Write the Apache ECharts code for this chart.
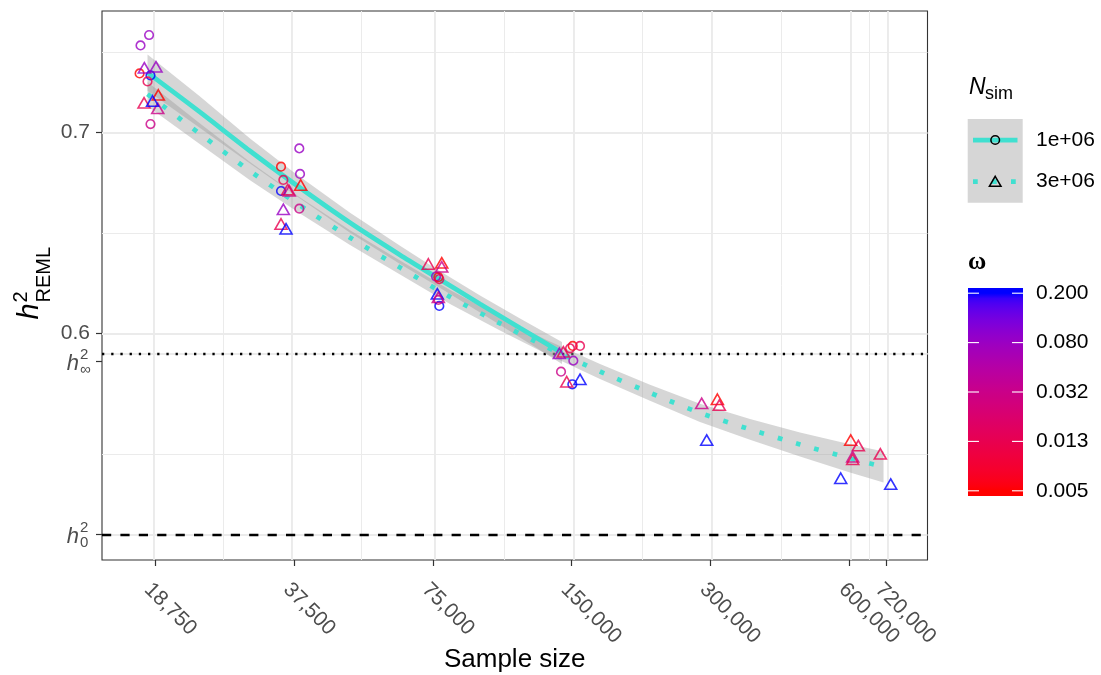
<!DOCTYPE html>
<html>
<head>
<meta charset="utf-8">
<script src="https://cdn.jsdelivr.net/npm/echarts@6/dist/echarts.min.js"></script>
<style>
  html, body { margin: 0; padding: 0; background: #ffffff; }
  #chart { width: 1101px; height: 675px; }
</style>
</head>
<body>
<div id="chart"></div>
<script>
// ---- axis breaks and limits ----
const sampleSizeTicks = [18750, 37500, 75000, 150000, 300000, 600000, 720000];
const sampleSizeRange = [14390, 885500];
const h2Range = [0.48721, 0.76035];
const h2Zero = 0.5;      // h^2_0
const h2Inf = 0.586;     // h^2_infinity
const h2Ticks = [0.6, 0.7];
const omegaBreaks = [0.2, 0.08, 0.032, 0.0128, 0.00512];
const nsimLabels = ['1e+06', '3e+06'];

// ---- N_sim = 1e+06 replicates (circles) ----
const circleN = [18200, 17440, 17360, 18330, 18060, 18330,
  38520, 35160, 38660, 35570, 35160, 38520,
  76200, 77090, 77470, 77090, 77470,
  150750, 156340, 148750, 151200, 142200, 150450];
const circleH2 = [0.7484, 0.7432, 0.7293, 0.7283, 0.7253, 0.7041,
  0.6920, 0.6829, 0.6793, 0.6763, 0.6708, 0.6620,
  0.6282, 0.6279, 0.6270, 0.6166, 0.6136,
  0.5937, 0.5937, 0.5925, 0.5864, 0.5809, 0.5746];
const circleOmega = [0.08, 0.08, 0.00512, 0.2, 0.0128, 0.032,
  0.08, 0.00512, 0.08, 0.0128, 0.2, 0.032,
  0.08, 0.00512, 0.0128, 0.032, 0.2,
  0.00512, 0.0128, 0.0128, 0.08, 0.032, 0.2];

// ---- N_sim = 3e+06 replicates (triangles) ----
const triangleN = [17775, 18840, 17750, 19060, 19005, 18520,
  36650, 36360, 38790, 35570, 35160, 36050,
  73340, 78410, 78410, 76700, 77090,
  143850, 141000, 146310, 156340,
  286900, 310300, 313300, 294200,
  603600, 627000, 609600, 609600, 699700, 574300, 737000];
const triangleH2 = [0.7321, 0.7326, 0.7147, 0.7186, 0.7119, 0.7156,
  0.6709, 0.6715, 0.6738, 0.6617, 0.6544, 0.6520,
  0.6345, 0.6351, 0.6331, 0.6196, 0.6179,
  0.5908, 0.5900, 0.5759, 0.5771,
  0.5652, 0.5672, 0.5643, 0.5469,
  0.5469, 0.5441, 0.5386, 0.5373, 0.5400, 0.5279, 0.5250];
const triangleOmega = [0.08, 0.08, 0.0128, 0.00512, 0.032, 0.2,
  0.032, 0.0128, 0.00512, 0.08, 0.0128, 0.2,
  0.0128, 0.00512, 0.032, 0.2, 0.032,
  0.0128, 0.08, 0.0128, 0.2,
  0.032, 0.00512, 0.0128, 0.2,
  0.00512, 0.0128, 0.032, 0.0128, 0.0128, 0.2, 0.2];

// ---- smoothed fits with confidence bands ----
const fit1N = [18060, 23470, 30120, 37330, 49620, 63680, 74700, 94930, 115900, 142900];
const fit1H2 = [0.7297, 0.7100, 0.6907, 0.6749, 0.6550, 0.6390, 0.6292, 0.6146, 0.6026, 0.5902];
const fit1Lower = [0.7207, 0.7022, 0.6845, 0.6694, 0.6500, 0.6345, 0.6250, 0.6104, 0.5979, 0.5847];
const fit1Upper = [0.7387, 0.7178, 0.6969, 0.6804, 0.6600, 0.6435, 0.6334, 0.6188, 0.6073, 0.5957];

const fit3N = [18060, 23470, 30120, 38660, 49620, 63680, 81730, 104880, 131940, 172750,
  221700, 284500, 365200, 468700, 601500, 711000];
const fit3H2 = [0.7190, 0.6992, 0.6807, 0.6636, 0.6476, 0.6327, 0.6181, 0.6049, 0.5933, 0.5810,
  0.5704, 0.5604, 0.5522, 0.5447, 0.5378, 0.5335];
const fit3Lower = [0.7130, 0.6940, 0.6762, 0.6596, 0.6439, 0.6292, 0.6146, 0.6014, 0.5898, 0.5773,
  0.5664, 0.5559, 0.5470, 0.5387, 0.5308, 0.5258];
const fit3Upper = [0.7250, 0.7044, 0.6852, 0.6676, 0.6513, 0.6362, 0.6216, 0.6084, 0.5968, 0.5847,
  0.5744, 0.5649, 0.5574, 0.5507, 0.5448, 0.5412];

// ---- styling ----
const FONT = "'Liberation Sans', Arial, Helvetica, sans-serif";
const SERIF = "'Liberation Serif', 'DejaVu Serif', serif";
const TICK_SIZE = 21;
const AXIS_TEXT = '#4D4D4D';
const DARK = '#333333';
const FIT_COLOUR = '#40E0D0';
const BAND_COLOUR = '#999999';
const GRID_COLOUR = '#EBEBEB';

// ---- colour scale: red -> blue interpolated in CIE Lab on log(omega) ----
const WHITE = [0.95047, 1.0, 1.08883];
function toLinear(c) { return c <= 0.04045 ? c / 12.92 : Math.pow((c + 0.055) / 1.055, 2.4); }
function fromLinear(c) { c = Math.min(1, Math.max(0, c)); return c <= 0.0031308 ? 12.92 * c : 1.055 * Math.pow(c, 1 / 2.4) - 0.055; }
function hexToLab(hex) {
  const [r, g, b] = [1, 3, 5].map(i => toLinear(parseInt(hex.slice(i, i + 2), 16) / 255));
  const X = (0.4124564 * r + 0.3575761 * g + 0.1804375 * b) / WHITE[0];
  const Y = (0.2126729 * r + 0.7151522 * g + 0.0721750 * b) / WHITE[1];
  const Z = (0.0193339 * r + 0.1191920 * g + 0.9503041 * b) / WHITE[2];
  const f = t => t > 0.008856 ? Math.cbrt(t) : 7.787 * t + 16 / 116;
  const fx = f(X), fy = f(Y), fz = f(Z);
  return [116 * fy - 16, 500 * (fx - fy), 200 * (fy - fz)];
}
function labToHex(lab) {
  const fy = (lab[0] + 16) / 116, fx = fy + lab[1] / 500, fz = fy - lab[2] / 200;
  const finv = t => { const t3 = t * t * t; return t3 > 0.008856 ? t3 : (t - 16 / 116) / 7.787; };
  const X = WHITE[0] * finv(fx), Y = WHITE[1] * finv(fy), Z = WHITE[2] * finv(fz);
  const r = 3.2404542 * X - 1.5371385 * Y - 0.4985314 * Z;
  const g = -0.9692660 * X + 1.8760108 * Y + 0.0415560 * Z;
  const b = 0.0556434 * X - 0.2040259 * Y + 1.0572252 * Z;
  return '#' + [r, g, b].map(c => Math.round(fromLinear(c) * 255).toString(16).padStart(2, '0')).join('');
}
const LAB_LOW = hexToLab('#FF0000');
const LAB_HIGH = hexToLab('#0000FF');
const OMEGA_LO = Math.min(...omegaBreaks), OMEGA_HI = Math.max(...omegaBreaks);
function colourAt(t) {
  return labToHex(LAB_LOW.map((v, i) => v + (LAB_HIGH[i] - v) * t));
}
function omegaT(w) { return (Math.log(w) - Math.log(OMEGA_LO)) / (Math.log(OMEGA_HI) - Math.log(OMEGA_LO)); }
function omegaColour(w) { return colourAt(Math.min(1, Math.max(0, omegaT(w)))); }

// ---- helpers ----
const lg = Math.log10;
function pairs(xs, ys) { return xs.map((x, i) => [lg(x), ys[i]]); }
function minorBreaks(breaks, lo, hi) {
  const b = breaks.slice().sort((a, c) => a - c);
  const bd = b[1] - b[0];
  if (lo < b[0]) b.unshift(b[0] - bd);
  if (hi > b[b.length - 1]) b.push(b[b.length - 1] + bd);
  const out = [];
  for (let i = 0; i < b.length - 1; i++) out.push((b[i] + b[i + 1]) / 2);
  return out.filter(v => v > lo && v < hi);
}

const xMin = lg(sampleSizeRange[0]), xMax = lg(sampleSizeRange[1]);
const xMajor = sampleSizeTicks.map(lg);
const xMinor = minorBreaks(xMajor, xMin, xMax);
const yMajor = [h2Zero, h2Inf].concat(h2Ticks);
const yMinor = minorBreaks(yMajor, h2Range[0], h2Range[1]);

const gridLines = []
  .concat(xMinor.map(v => ({ xAxis: v, lineStyle: { width: 1.0 } })))
  .concat(yMinor.map(v => ({ yAxis: v, lineStyle: { width: 1.0 } })))
  .concat(xMajor.map(v => ({ xAxis: v, lineStyle: { width: 1.9 } })))
  .concat(yMajor.map(v => ({ yAxis: v, lineStyle: { width: 1.9 } })));

function pointData(ns, hs, ws) {
  return ns.map((n, i) => ({
    value: [lg(n), hs[i]],
    itemStyle: { color: 'rgba(0,0,0,0)', borderColor: omegaColour(ws[i]), borderWidth: 1.6 }
  }));
}

// confidence band drawn as one translucent polygon per fit
function bandSeries(ns, lower, upper) {
  return {
    type: 'custom', silent: true, z: 3,
    data: ns.map((n, i) => [lg(n), lower[i], upper[i]]),
    encode: { x: 0, y: [1, 2] },
    renderItem: (params, api) => {
      if (params.dataIndex !== 0) return { type: 'group', children: [] };
      const top = ns.map((n, i) => api.coord([lg(n), upper[i]]));
      const bottom = ns.map((n, i) => api.coord([lg(n), lower[i]])).reverse();
      return {
        type: 'polygon',
        shape: { points: top.concat(bottom) },
        style: { fill: BAND_COLOUR, opacity: 0.4 }
      };
    }
  };
}

const chart = echarts.init(document.getElementById('chart'), null, { renderer: 'canvas' });

const option = {
  animation: false,
  textStyle: { fontFamily: FONT },
  grid: {
    left: 102, right: 173.5, top: 11, bottom: 115,
    containLabel: false, outerBoundsMode: 'none',
    show: true, borderColor: DARK, borderWidth: 1.1, backgroundColor: '#ffffff'
  },
  xAxis: {
    type: 'value', min: xMin, max: xMax,
    axisLine: { show: false },
    splitLine: { show: false },
    axisTick: { customValues: xMajor, length: 6, lineStyle: { color: DARK, width: 1.2 } },
    axisLabel: {
      customValues: xMajor,
      formatter: v => Math.round(Math.pow(10, v)).toLocaleString('en-US'),
      rotate: -45, align: 'left', verticalAlign: 'top', margin: 19,
      color: AXIS_TEXT, fontSize: TICK_SIZE, fontFamily: FONT
    }
  },
  yAxis: {
    type: 'value', min: h2Range[0], max: h2Range[1],
    axisLine: { show: false },
    splitLine: { show: false },
    axisTick: { customValues: yMajor, length: 6, lineStyle: { color: DARK, width: 1.2 } },
    axisLabel: {
      customValues: h2Ticks, formatter: v => v.toFixed(1),
      margin: 12, color: AXIS_TEXT, fontSize: TICK_SIZE, fontFamily: FONT
    }
  },
  series: [
    {
      type: 'line', data: [], silent: true, z: 1,
      markLine: {
        z: 1, silent: true, symbol: ['none', 'none'], label: { show: false },
        emphasis: { disabled: true },
        lineStyle: { color: GRID_COLOUR, type: 'solid' },
        data: gridLines
      }
    },
    {
      type: 'line', data: [], silent: true, z: 2,
      markLine: {
        z: 2, silent: true, symbol: ['none', 'none'], label: { show: false },
        emphasis: { disabled: true },
        data: [
          { yAxis: h2Inf, lineStyle: { color: '#000000', width: 2.3, type: [2.3, 6.9], cap: 'butt' } },
          { yAxis: h2Zero, lineStyle: { color: '#000000', width: 2.3, type: [9.2, 9.2], cap: 'butt' } }
        ]
      }
    },
    bandSeries(fit1N, fit1Lower, fit1Upper),
    bandSeries(fit3N, fit3Lower, fit3Upper),
    {
      name: nsimLabels[0], type: 'line', data: pairs(fit1N, fit1H2), showSymbol: false,
      silent: true, smooth: 0.25, z: 4,
      lineStyle: { color: FIT_COLOUR, width: 4.75, cap: 'butt' }
    },
    {
      name: nsimLabels[1], type: 'line', data: pairs(fit3N, fit3H2), showSymbol: false,
      silent: true, smooth: 0.25, z: 4,
      lineStyle: { color: FIT_COLOUR, width: 4.75, type: [4.75, 14.25], cap: 'butt' }
    },
    {
      type: 'scatter', symbol: 'circle', symbolSize: 8.6, z: 5, silent: true,
      data: pointData(circleN, circleH2, circleOmega)
    },
    {
      type: 'scatter', symbol: 'triangle', symbolSize: [12, 10.4], z: 5, silent: true,
      data: pointData(triangleN, triangleH2, triangleOmega)
    }
  ]
};

chart.setOption(option);

// ---- math-style labels, axis titles and legends ----
function txt(x, y, text, size, opts) {
  opts = opts || {};
  return {
    type: 'text', x: x, y: y, silent: true, z: 10,
    style: {
      text: text, fontSize: size, fontFamily: opts.family || FONT,
      fontStyle: opts.italic ? 'italic' : 'normal',
      fontWeight: opts.bold ? 'bold' : 'normal',
      fill: opts.fill || '#000000',
      align: opts.align || 'left', textAlign: opts.align || 'left',
      verticalAlign: 'middle', textVerticalAlign: 'middle'
    }
  };
}

const toPx = (x, y) => chart.convertToPixel({ gridIndex: 0 }, [x, y]);
const graphics = [];
const [leftPx, botPx] = toPx(xMin, h2Range[0]);
const [rightPx, topPx] = toPx(xMax, h2Range[1]);

// x axis title
graphics.push(txt((leftPx + rightPx) / 2, botPx + 100, 'Sample size', 26, { align: 'center' }));

// h^2 with subscripts on the y axis
[[h2Inf, '\u221E'], [h2Zero, '0']].forEach(([v, sub]) => {
  const py = toPx(xMin, v)[1];
  graphics.push(txt(79, py + 2.5, 'h', 22, { italic: true, fill: AXIS_TEXT, align: 'right' }));
  graphics.push(txt(80, py - 6.5, '2', 15, { fill: AXIS_TEXT }));
  graphics.push(txt(80, py + 8.5, sub, 15, { fill: AXIS_TEXT }));
});

// y axis title: h^2 with REML subscript, rotated
graphics.push({
  type: 'group', x: 40, y: (topPx + botPx) / 2, rotation: Math.PI / 2, silent: true,
  children: [
    txt(-34, -10, 'h', 29, { italic: true }),
    txt(-17, -19, '2', 20),
    txt(-17, 4.5, 'REML', 20)
  ]
});

// N_sim legend
graphics.push(txt(969, 88, 'N', 23, { italic: true }));
graphics.push(txt(985, 94, 'sim', 18));
graphics.push({ type: 'rect', shape: { x: 967.7, y: 119, width: 55, height: 83.7 }, style: { fill: '#D6D6D6' }, silent: true });
const keyY = [140, 181.7];
graphics.push({ type: 'line', shape: { x1: 973, y1: keyY[0], x2: 1017.5, y2: keyY[0] },
  style: { stroke: FIT_COLOUR, lineWidth: 4.75, lineCap: 'butt' }, silent: true });
graphics.push({ type: 'line', shape: { x1: 973, y1: keyY[1], x2: 1017.5, y2: keyY[1] },
  style: { stroke: FIT_COLOUR, lineWidth: 4.75, lineCap: 'butt', lineDash: [4.75, 14.25] }, silent: true });
graphics.push({ type: 'circle', shape: { cx: 995.2, cy: keyY[0], r: 4.3 },
  style: { fill: 'none', stroke: '#000000', lineWidth: 1.5 }, silent: true });
graphics.push({ type: 'polygon', shape: { points: [[995.2, keyY[1] - 5.4], [1001, keyY[1] + 4.6], [989.4, keyY[1] + 4.6]] },
  style: { fill: 'none', stroke: '#000000', lineWidth: 1.5 }, silent: true });
nsimLabels.forEach((s, i) => graphics.push(txt(1036, keyY[i], s, TICK_SIZE)));

// omega colour bar
graphics.push(txt(968, 263, '\u03C9', 25, { family: SERIF, bold: true }));
const bar = { x: 968, y: 288, w: 55, h: 208 };
const stops = [];
for (let k = 0; k <= 40; k++) {
  const o = k / 40;
  const t = Math.min(1, Math.max(0, 1 - (o - 0.025) / 0.95));
  stops.push({ offset: o, color: colourAt(t) });
}
graphics.push({ type: 'rect', shape: { x: bar.x, y: bar.y, width: bar.w, height: bar.h },
  style: { fill: new echarts.graphic.LinearGradient(0, 0, 0, 1, stops) }, silent: true });
omegaBreaks.forEach(w => {
  const py = bar.y + bar.h * (0.025 + 0.95 * (1 - omegaT(w)));
  graphics.push({ type: 'line', shape: { x1: bar.x, y1: py, x2: bar.x + 11, y2: py },
    style: { stroke: '#ffffff', lineWidth: 1.1 }, silent: true, z: 11 });
  graphics.push({ type: 'line', shape: { x1: bar.x + bar.w - 11, y1: py, x2: bar.x + bar.w, y2: py },
    style: { stroke: '#ffffff', lineWidth: 1.1 }, silent: true, z: 11 });
  graphics.push(txt(1036, py, w.toFixed(3), TICK_SIZE));
});

chart.setOption({ graphic: graphics });
</script>
</body>
</html>
